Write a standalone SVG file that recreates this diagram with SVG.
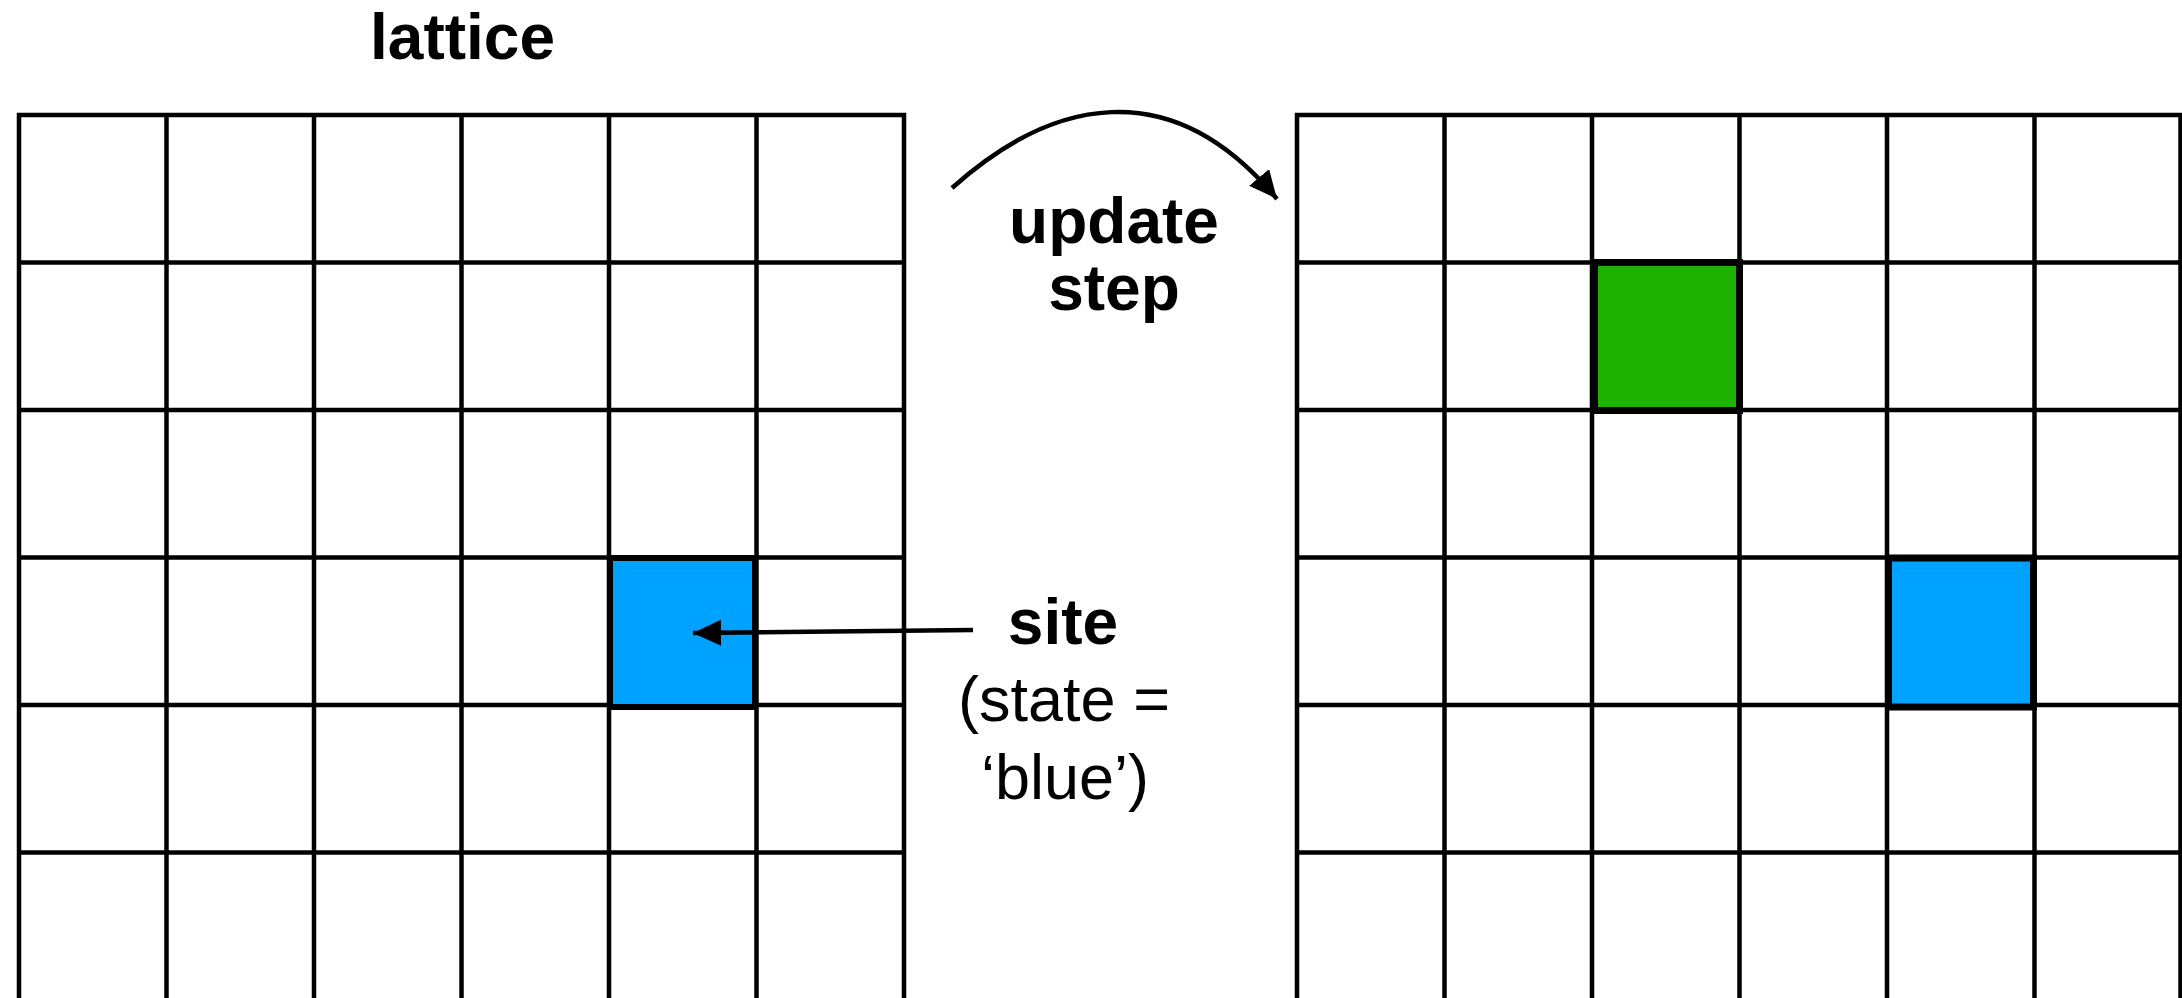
<svg xmlns="http://www.w3.org/2000/svg" width="2182" height="998" viewBox="0 0 2182 998">
<style>
.g line{stroke:#000;stroke-width:4.5}
.cell{stroke:#000}
.b{font-family:"Liberation Sans",Arial,sans-serif;font-weight:bold;font-size:64px;fill:#000;text-anchor:middle}
.r{font-family:"Liberation Sans",Arial,sans-serif;font-size:63px;fill:#000;text-anchor:middle}
.conn{fill:none;stroke:#000;stroke-width:4.5}
</style>
<defs>
<marker id="ah" markerUnits="userSpaceOnUse" markerWidth="30" markerHeight="28" refX="28" refY="13" orient="auto">
<path d="M0,0 L28,13 L0,26 z" fill="#000"/>
</marker>
</defs>
<rect width="2182" height="998" fill="#fff"/>
<g id="lattice-left" class="g">
<line x1="19" y1="113" x2="19" y2="998"/>
<line x1="166.5" y1="113" x2="166.5" y2="998"/>
<line x1="314" y1="113" x2="314" y2="998"/>
<line x1="461.5" y1="113" x2="461.5" y2="998"/>
<line x1="609" y1="113" x2="609" y2="998"/>
<line x1="756.5" y1="113" x2="756.5" y2="998"/>
<line x1="904" y1="113" x2="904" y2="998"/>
<line x1="17" y1="115" x2="906" y2="115"/>
<line x1="17" y1="262.5" x2="906" y2="262.5"/>
<line x1="17" y1="410" x2="906" y2="410"/>
<line x1="17" y1="557.5" x2="906" y2="557.5"/>
<line x1="17" y1="705" x2="906" y2="705"/>
<line x1="17" y1="852.5" x2="906" y2="852.5"/>
</g>
<g id="site-left">
<rect class="cell" x="610" y="558" width="145" height="149" fill="#00A2FF" stroke-width="6"/>
</g>
<g id="lattice-right" class="g">
<line x1="1297" y1="113" x2="1297" y2="998"/>
<line x1="1444.5" y1="113" x2="1444.5" y2="998"/>
<line x1="1592" y1="113" x2="1592" y2="998"/>
<line x1="1739.5" y1="113" x2="1739.5" y2="998"/>
<line x1="1887" y1="113" x2="1887" y2="998"/>
<line x1="2034.5" y1="113" x2="2034.5" y2="998"/>
<line x1="2180.5" y1="113" x2="2180.5" y2="998"/>
<line x1="1295" y1="115" x2="2182" y2="115"/>
<line x1="1295" y1="262.5" x2="2182" y2="262.5"/>
<line x1="1295" y1="410" x2="2182" y2="410"/>
<line x1="1295" y1="557.5" x2="2182" y2="557.5"/>
<line x1="1295" y1="705" x2="2182" y2="705"/>
<line x1="1295" y1="852.5" x2="2182" y2="852.5"/>
</g>
<g id="site-green">
<rect class="cell" x="1594.5" y="262.5" width="145" height="148" fill="#1DB100" stroke-width="7"/>
</g>
<g id="site-right">
<rect class="cell" x="1888.5" y="558" width="145" height="149" fill="#00A2FF" stroke-width="7"/>
</g>
<g id="connectors">
<path class="conn" d="M952,188 C1050,100 1170,70 1277,199" marker-end="url(#ah)"/>
<path class="conn" d="M973,630 L693,633" marker-end="url(#ah)"/>
</g>
<g id="label-lattice"><text class="b" x="462.5" y="59">lattice</text></g>
<g id="label-update"><text class="b" x="1114" y="243">update</text><text class="b" x="1114" y="310">step</text></g>
<g id="label-site"><text class="b" x="1063" y="644">site</text><text class="r" x="1064" y="721">(state =</text><text class="r" x="1065" y="799">‘blue’)</text></g>
</svg>
